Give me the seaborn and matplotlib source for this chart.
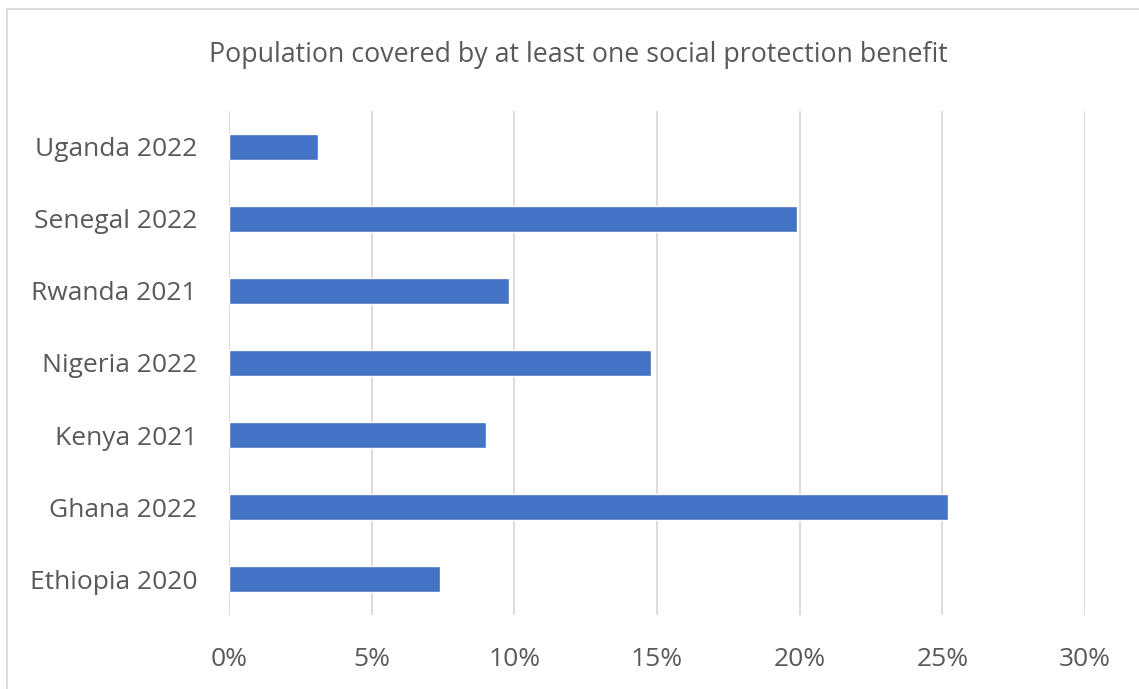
import pandas as pd
import numpy as np
import matplotlib.pyplot as plt
import seaborn as sns
from matplotlib.patches import Rectangle
from matplotlib.ticker import PercentFormatter

# Datos del gráfico
countries = ['Uganda 2022', 'Senegal 2022', 'Rwanda 2021', 'Nigeria 2022',
             'Kenya 2021', 'Ghana 2022', 'Ethiopia 2020']
coverage = [0.031, 0.199, 0.098, 0.148, 0.090, 0.252, 0.074]
x_ticks = [0, 0.05, 0.10, 0.15, 0.20, 0.25, 0.30]

data = pd.DataFrame({'country': countries, 'coverage': coverage})

sns.set_theme(style='white')
plt.rcParams['font.family'] = ['Open Sans', 'DejaVu Sans']

fig = plt.figure(figsize=(11.39, 6.89), dpi=100)
ax = fig.add_axes([0.2011, 0.1074, 0.7515, 0.7315])

sns.barplot(data=data, x='coverage', y='country', color='#4472C4',
            saturation=1, width=0.35, ax=ax)

ax.set_xlim(0, 0.30)
ax.set_ylim(6.5, -0.5)
ax.set_xticks(x_ticks)
ax.xaxis.set_major_formatter(PercentFormatter(1.0, decimals=0))
ax.grid(axis='x', color='#D9D9D9', linewidth=1.3)
ax.set_axisbelow(True)
for s in ax.spines.values():
    s.set_visible(False)
ax.set_xlabel('')
ax.set_ylabel('')
ax.tick_params(axis='x', length=0, pad=23, labelsize=19, labelcolor='#595959')
ax.tick_params(axis='y', length=0, pad=23, labelsize=19, labelcolor='#595959')

fig.text(0.5075, 0.920, 'Population covered by at least one social protection benefit',
         ha='center', va='center', fontsize=19.3, color='#595959')

# Marco del gráfico
fig.patches.append(Rectangle((7 / 1139, -0.05), 1.1, 1 - 9 / 689 + 0.05,
                             transform=fig.transFigure, fill=False,
                             edgecolor='#D9D9D9', linewidth=1.3))

fig.savefig('out.png', dpi=100)
